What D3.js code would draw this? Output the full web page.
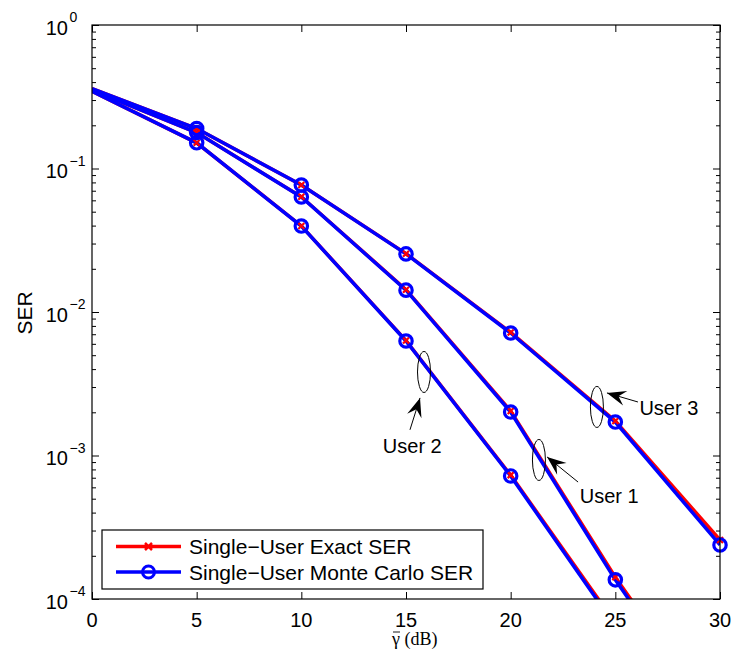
<!DOCTYPE html>
<html>
<head>
<meta charset="utf-8">
<script src="https://cdn.jsdelivr.net/npm/d3@7"></script>
<style>
  body { margin: 0; background: #fff; }
  svg { display: block; font-family: "Liberation Sans", Arial, sans-serif; }
</style>
</head>
<body>
<div id="chart"></div>
<script>
// SNR points (dB)
const snr = [0, 5, 10, 15, 20, 25, 30];

// Monte Carlo SER per user
const mcUser1 = [0.352, 0.178, 0.0633, 0.0142, 0.00201, 0.000136, 0.000012];
const mcUser2 = [0.345, 0.151, 0.0397, 0.00628, 0.00072, 0.000065, 0.000005];
const mcUser3 = [0.360, 0.190, 0.0767, 0.0254, 0.00714, 0.00171, 0.000238];

// Exact SER per user
const exUser1 = [0.352, 0.178, 0.0635, 0.0143, 0.00204, 0.000142, 0.000013];
const exUser2 = [0.345, 0.151, 0.0398, 0.00632, 0.00073, 0.000068, 0.000005];
const exUser3 = [0.360, 0.190, 0.0768, 0.0255, 0.00720, 0.00174, 0.000258];

const xTicks = [0, 5, 10, 15, 20, 25, 30];
const yExponents = [0, -1, -2, -3, -4];

const legendLabels = ["Single\u2212User Exact SER", "Single\u2212User Monte Carlo SER"];

// annotations (data coords): ellipse centre, arrow tail -> head, label position
const notes = [
    { label: "User 2", cx: 15.86, cy: 0.00382, tx: 15.19, ty: 0.00151, hx: 15.67, hy: 0.00252, lx: 15.3, ly: 0.00104, anchor: "middle" },
    { label: "User 1", cx: 21.35, cy: 0.000931, tx: 23.22, ty: 0.000653, hx: 21.74, hy: 0.000977, lx: 23.3, ly: 0.00047, anchor: "start" },
    { label: "User 3", cx: 24.12, cy: 0.00218, tx: 26.08, ty: 0.00236, hx: 24.6, hy: 0.00273, lx: 26.15, ly: 0.00193, anchor: "start" }
];

const W = 734, H = 658;
const margin = { top: 25, right: 14, bottom: 59, left: 92 };
const width = W - margin.left - margin.right;
const height = H - margin.top - margin.bottom;

const svg = d3.select("#chart").append("svg")
    .attr("width", W)
    .attr("height", H);

const g = svg.append("g")
    .attr("transform", `translate(${margin.left},${margin.top})`);

const x = d3.scaleLinear().domain([0, 30]).range([0, width]);
const y = d3.scaleLog().domain([1e-4, 1]).range([height, 0]);

g.append("clipPath").attr("id", "clip")
    .append("rect").attr("width", width).attr("height", height);

// ticks (inside, on all four sides)
const majors = yExponents.map(e => Math.pow(10, e));
const minors = [];
yExponents.slice(1).forEach(e => {
    for (let m = 2; m <= 9; m++) minors.push(m * Math.pow(10, e));
});

const tickStyle = sel => {
    sel.select(".domain").remove();
    sel.selectAll("line").attr("stroke", "#000").attr("stroke-width", 1);
    sel.selectAll("text").remove();
};

g.append("g").attr("transform", `translate(0,${height})`)
    .call(d3.axisBottom(x).tickValues(xTicks).tickSizeInner(-7).tickSizeOuter(0)).call(tickStyle);
g.append("g")
    .call(d3.axisTop(x).tickValues(xTicks).tickSizeInner(-7).tickSizeOuter(0)).call(tickStyle);
g.append("g")
    .call(d3.axisLeft(y).tickValues(majors).tickSizeInner(-7).tickSizeOuter(0)).call(tickStyle);
g.append("g")
    .call(d3.axisLeft(y).tickValues(minors).tickSizeInner(-4).tickSizeOuter(0)).call(tickStyle);
g.append("g").attr("transform", `translate(${width},0)`)
    .call(d3.axisRight(y).tickValues(majors).tickSizeInner(-7).tickSizeOuter(0)).call(tickStyle);
g.append("g").attr("transform", `translate(${width},0)`)
    .call(d3.axisRight(y).tickValues(minors).tickSizeInner(-4).tickSizeOuter(0)).call(tickStyle);

// tick labels
g.selectAll(".xlab").data(xTicks).enter().append("text")
    .attr("x", d => x(d))
    .attr("y", height + 28)
    .attr("text-anchor", "middle")
    .attr("font-size", 20)
    .text(d => d);

const ylab = g.selectAll(".ylab").data(yExponents).enter().append("g")
    .attr("transform", d => `translate(-24,${y(Math.pow(10, d))})`);
ylab.append("text")
    .attr("y", 9.5)
    .attr("text-anchor", "end")
    .attr("font-size", 20)
    .text("10");
ylab.append("text")
    .attr("x", 1.5)
    .attr("y", -3)
    .attr("font-size", 14)
    .text(d => d === 0 ? "0" : "\u2212" + Math.abs(d));

// axis titles: gamma with a bar, then (dB)
const xt = svg.append("g").attr("transform", "translate(392,645)");
xt.append("text")
    .attr("font-family", "'Liberation Serif', 'DejaVu Serif', serif")
    .attr("font-size", 18)
    .text("\u03B3 (dB)");
xt.append("line")
    .attr("x1", 1).attr("x2", 8)
    .attr("y1", -13).attr("y2", -13)
    .attr("stroke", "#000")
    .attr("stroke-width", 0.9);

svg.append("text")
    .attr("transform", "translate(32,313) rotate(-90)")
    .attr("text-anchor", "middle")
    .attr("font-size", 21)
    .text("SER");

// curves
const line = d3.line()
    .x(d => x(d[0]))
    .y(d => y(d[1]));

const exact = [exUser1, exUser2, exUser3];
const monte = [mcUser1, mcUser2, mcUser3];

const plot = g.append("g").attr("clip-path", "url(#clip)");
const marks = g.append("g");

const inView = d => d[0] > 0 && d[1] >= 1e-4;

exact.forEach(ser => {
    const pts = snr.map((s, i) => [s, ser[i]]);
    plot.append("path")
        .attr("d", line(pts))
        .attr("fill", "none")
        .attr("stroke", "#ff0000")
        .attr("stroke-width", 3.5);
    marks.selectAll(null).data(pts.filter(inView)).enter().append("path")
        .attr("transform", d => `translate(${x(d[0])},${y(d[1])})`)
        .attr("d", "M-3,-3L3,3M-3,3L3,-3")
        .attr("stroke", "#ff0000")
        .attr("stroke-width", 2.2);
});

monte.forEach(ser => {
    const pts = snr.map((s, i) => [s, ser[i]]);
    plot.append("path")
        .attr("d", line(pts))
        .attr("fill", "none")
        .attr("stroke", "#0000ff")
        .attr("stroke-width", 3.5);
    marks.selectAll(null).data(pts.filter(inView)).enter().append("circle")
        .attr("cx", d => x(d[0]))
        .attr("cy", d => y(d[1]))
        .attr("r", 6.2)
        .attr("fill", "none")
        .attr("stroke", "#0000ff")
        .attr("stroke-width", 3.2);
});

// box
g.append("rect")
    .attr("width", width)
    .attr("height", height)
    .attr("fill", "none")
    .attr("stroke", "#000")
    .attr("stroke-width", 1.2);

// annotations
const arrowHead = (x1, y1, x2, y2) => {
    const a = Math.atan2(y2 - y1, x2 - x1);
    const len = 19, half = 7.5, back = 12;
    const p = (l, w) => [x2 - l * Math.cos(a) - w * Math.sin(a), y2 - l * Math.sin(a) + w * Math.cos(a)];
    const pts = [[x2, y2], p(len, half), p(back, 0), p(len, -half)];
    return "M" + pts.map(q => q.join(",")).join("L") + "Z";
};

notes.forEach(n => {
    g.append("ellipse")
        .attr("cx", x(n.cx))
        .attr("cy", y(n.cy))
        .attr("rx", 6.5)
        .attr("ry", 20.5)
        .attr("fill", "none")
        .attr("stroke", "#000")
        .attr("stroke-width", 1);
    g.append("line")
        .attr("x1", x(n.tx)).attr("y1", y(n.ty))
        .attr("x2", x(n.hx)).attr("y2", y(n.hy))
        .attr("stroke", "#000")
        .attr("stroke-width", 1);
    g.append("path")
        .attr("d", arrowHead(x(n.tx), y(n.ty), x(n.hx), y(n.hy)))
        .attr("fill", "#000");
    g.append("text")
        .attr("x", x(n.lx))
        .attr("y", y(n.ly))
        .attr("text-anchor", n.anchor)
        .attr("font-size", 20)
        .text(n.label);
});

// legend
const leg = svg.append("g").attr("transform", "translate(102,530)");
leg.append("rect")
    .attr("width", 381)
    .attr("height", 59)
    .attr("fill", "#fff")
    .attr("stroke", "#000")
    .attr("stroke-width", 1.2);
const colors = ["#ff0000", "#0000ff"];
legendLabels.forEach((lab, i) => {
    const yy = 16.5 + i * 25.5;
    leg.append("line")
        .attr("x1", 14).attr("x2", 79)
        .attr("y1", yy).attr("y2", yy)
        .attr("stroke", colors[i])
        .attr("stroke-width", 3.5);
    if (i === 0) {
        leg.append("path")
            .attr("transform", `translate(46.5,${yy})`)
            .attr("d", "M-3.5,-3.5L3.5,3.5M-3.5,3.5L3.5,-3.5")
            .attr("stroke", colors[i])
            .attr("stroke-width", 2.5);
    } else {
        leg.append("circle")
            .attr("cx", 46.5).attr("cy", yy).attr("r", 6)
            .attr("fill", "none")
            .attr("stroke", colors[i])
            .attr("stroke-width", 3);
    }
    leg.append("text")
        .attr("x", 87)
        .attr("y", yy + 7.5)
        .attr("font-size", 21)
        .text(lab);
});
</script>
</body>
</html>
